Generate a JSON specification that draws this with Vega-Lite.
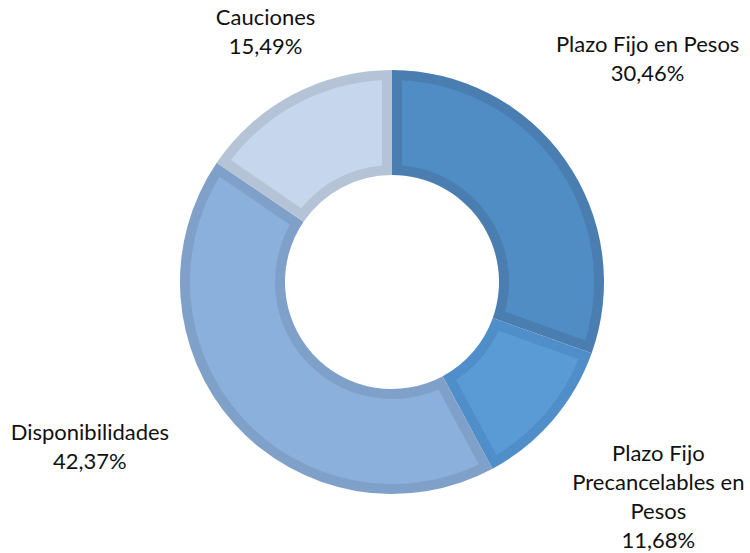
{
  "$schema": "https://vega.github.io/schema/vega-lite/v6.json",
  "width": 716,
  "height": 540,
  "autosize": {"type": "none"},
  "padding": {"left": 34, "top": 12, "right": 0, "bottom": 1},
  "background": "white",
  "config": {"view": {"stroke": null}},
  "data": {
    "values": [
      {"cat": "Plazo Fijo en Pesos", "value": 30.46, "idx": 1, "label": "Plazo Fijo en Pesos\n30,46%"},
      {"cat": "Plazo Fijo Precancelables en Pesos", "value": 11.68, "idx": 2, "label": "Plazo Fijo\nPrecancelables en\nPesos\n11,68%"},
      {"cat": "Disponibilidades", "value": 42.37, "idx": 3, "label": "Disponibilidades\n42,37%"},
      {"cat": "Cauciones", "value": 15.49, "idx": 4, "label": "Cauciones\n15,49%"}
    ]
  },
  "encoding": {
    "theta": {"field": "value", "type": "quantitative", "stack": true},
    "order": {"field": "idx", "type": "quantitative"}
  },
  "layer": [
    {
      "mark": {"type": "arc", "outerRadius": 212, "innerRadius": 107},
      "encoding": {
        "color": {
          "field": "cat", "type": "nominal", "legend": null,
          "scale": {
            "domain": ["Plazo Fijo en Pesos", "Plazo Fijo Precancelables en Pesos", "Disponibilidades", "Cauciones"],
            "range": ["#4A7EB0", "#4F8EC8", "#7FA0C8", "#B4C3D6"]
          }
        }
      }
    },
    {
      "mark": {"type": "arc", "outerRadius": 202, "innerRadius": 117, "padAngle": 0.0857},
      "encoding": {
        "fill": {
          "field": "cat", "type": "nominal", "legend": null,
          "scale": {
            "domain": ["Plazo Fijo en Pesos", "Plazo Fijo Precancelables en Pesos", "Disponibilidades", "Cauciones"],
            "range": ["#508DC4", "#5B9BD5", "#8CB0DC", "#C6D6EC"]
          }
        }
      }
    },
    {
      "mark": {"type": "text", "radius": 336, "dx": -19, "dy": -43, "font": "Lato", "fontSize": 22, "lineHeight": 29, "lineBreak": "\n", "align": "center", "baseline": "middle", "color": "#111111"},
      "encoding": {"text": {"condition": {"test": "datum.cat === 'Plazo Fijo en Pesos'", "field": "label", "type": "nominal"}, "value": ""}}
    },
    {
      "mark": {"type": "text", "radius": 342, "dx": 7, "dy": -51, "font": "Lato", "fontSize": 22, "lineHeight": 29, "lineBreak": "\n", "align": "center", "baseline": "middle", "color": "#111111"},
      "encoding": {"text": {"condition": {"test": "datum.cat === 'Plazo Fijo Precancelables en Pesos'", "field": "label", "type": "nominal"}, "value": ""}}
    },
    {
      "mark": {"type": "text", "radius": 334, "dx": -54, "dy": -72.5, "font": "Lato", "fontSize": 22, "lineHeight": 29, "lineBreak": "\n", "align": "center", "baseline": "middle", "color": "#111111"},
      "encoding": {"text": {"condition": {"test": "datum.cat === 'Disponibilidades'", "field": "label", "type": "nominal"}, "value": ""}}
    },
    {
      "mark": {"type": "text", "radius": 280, "dx": 4.5, "dy": -17, "font": "Lato", "fontSize": 22, "lineHeight": 29, "lineBreak": "\n", "align": "center", "baseline": "middle", "color": "#111111"},
      "encoding": {"text": {"condition": {"test": "datum.cat === 'Cauciones'", "field": "label", "type": "nominal"}, "value": ""}}
    }
  ],
  "resolve": {"scale": {"color": "independent", "fill": "independent"}}
}
